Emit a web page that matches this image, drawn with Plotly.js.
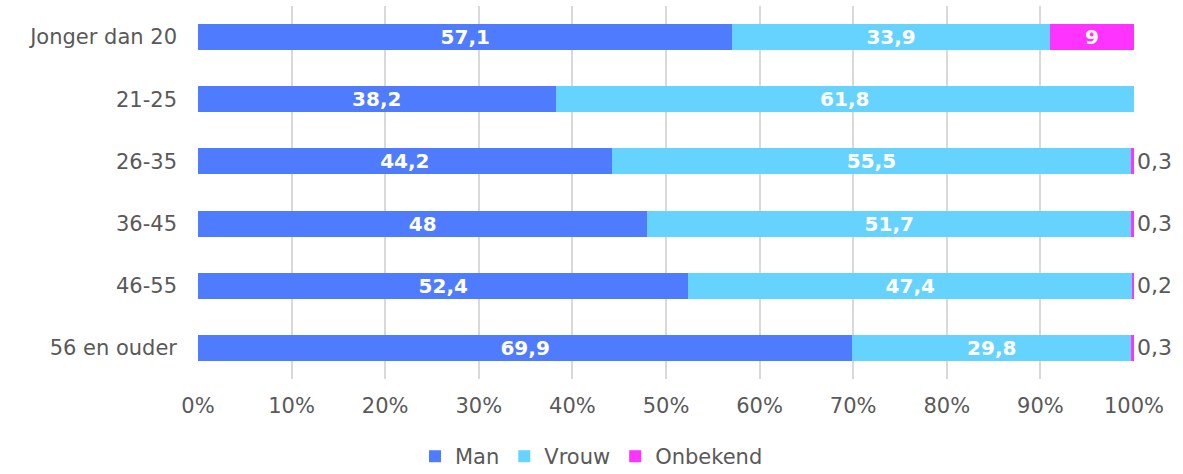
<!DOCTYPE html>
<html>
<head>
<meta charset="utf-8">
<script src="https://cdn.plot.ly/plotly-3.0.1.min.js"></script>
<style>html,body{margin:0;padding:0;background:#fff;}#chart{width:1183px;height:474px;}</style>
</head>
<body>
<div id="chart"></div>
<script>
const categories = ["Jonger dan 20", "21-25", "26-35", "36-45", "46-55", "56 en ouder"];
const man = [57.1, 38.2, 44.2, 48, 52.4, 69.9];
const vrouw = [33.9, 61.8, 55.5, 51.7, 47.4, 29.8];
const onbekend = [9, 0, 0.3, 0.3, 0.2, 0.3];
const seriesNames = ["Man", "Vrouw", "Onbekend"];
const tickVals = [0, 10, 20, 30, 40, 50, 60, 70, 80, 90, 100];
const tickText = ["0%", "10%", "20%", "30%", "40%", "50%", "60%", "70%", "80%", "90%", "100%"];

const FONT = "DejaVu Sans, sans-serif";
const GREY = "#595959";
const fmt = v => String(v).replace('.', ',');

function trace(name, vals, color, positions) {
  return {
    type: 'bar', orientation: 'h', name: name,
    y: categories, x: vals,
    marker: {color: color},
    text: vals.map(fmt),
    textposition: positions,
    insidetextanchor: 'middle',
    textangle: 0,
    constraintext: 'none',
    cliponaxis: false,
    insidetextfont: {family: FONT, size: 20, color: '#ffffff', weight: 'bold'},
    outsidetextfont: {family: FONT, size: 22, color: GREY},
    hoverinfo: 'name+x'
  };
}

const data = [
  trace(seriesNames[0], man, '#4F7BFF', man.map(() => 'inside')),
  trace(seriesNames[1], vrouw, '#66D3FF', vrouw.map(() => 'inside')),
  trace(seriesNames[2], onbekend, '#FF33FF', onbekend.map(v => v === 0 ? 'none' : (v >= 5 ? 'inside' : 'outside')))
];

const layout = {
  width: 1183, height: 474,
  barmode: 'stack',
  bargap: 0.58,
  margin: {l: 198, r: 49, t: 6, b: 95, autoexpand: false},
  paper_bgcolor: '#ffffff', plot_bgcolor: '#ffffff',
  font: {family: FONT, size: 21, color: GREY},
  xaxis: {
    range: [0, 100], tickvals: tickVals, ticktext: tickText,
    showgrid: true, gridcolor: '#D9D9D9', gridwidth: 2,
    zeroline: false, showline: false, ticks: '',
    ticklabelstandoff: 12,
    tickfont: {family: FONT, size: 21, color: GREY}
  },
  yaxis: {
    autorange: 'reversed', showgrid: false, zeroline: false, showline: false,
    ticks: '', ticklabelstandoff: 20,
    tickfont: {family: FONT, size: 21, color: GREY}
  },
  showlegend: true,
  legend: {
    orientation: 'h', xref: 'container', yref: 'paper',
    x: 0.5, xanchor: 'center', y: -0.208, yanchor: 'middle',
    font: {family: FONT, size: 21, color: GREY},
    itemwidth: 30, traceorder: 'normal'
  }
};

Plotly.newPlot('chart', data, layout, {displayModeBar: false, staticPlot: true});
</script>
</body>
</html>
